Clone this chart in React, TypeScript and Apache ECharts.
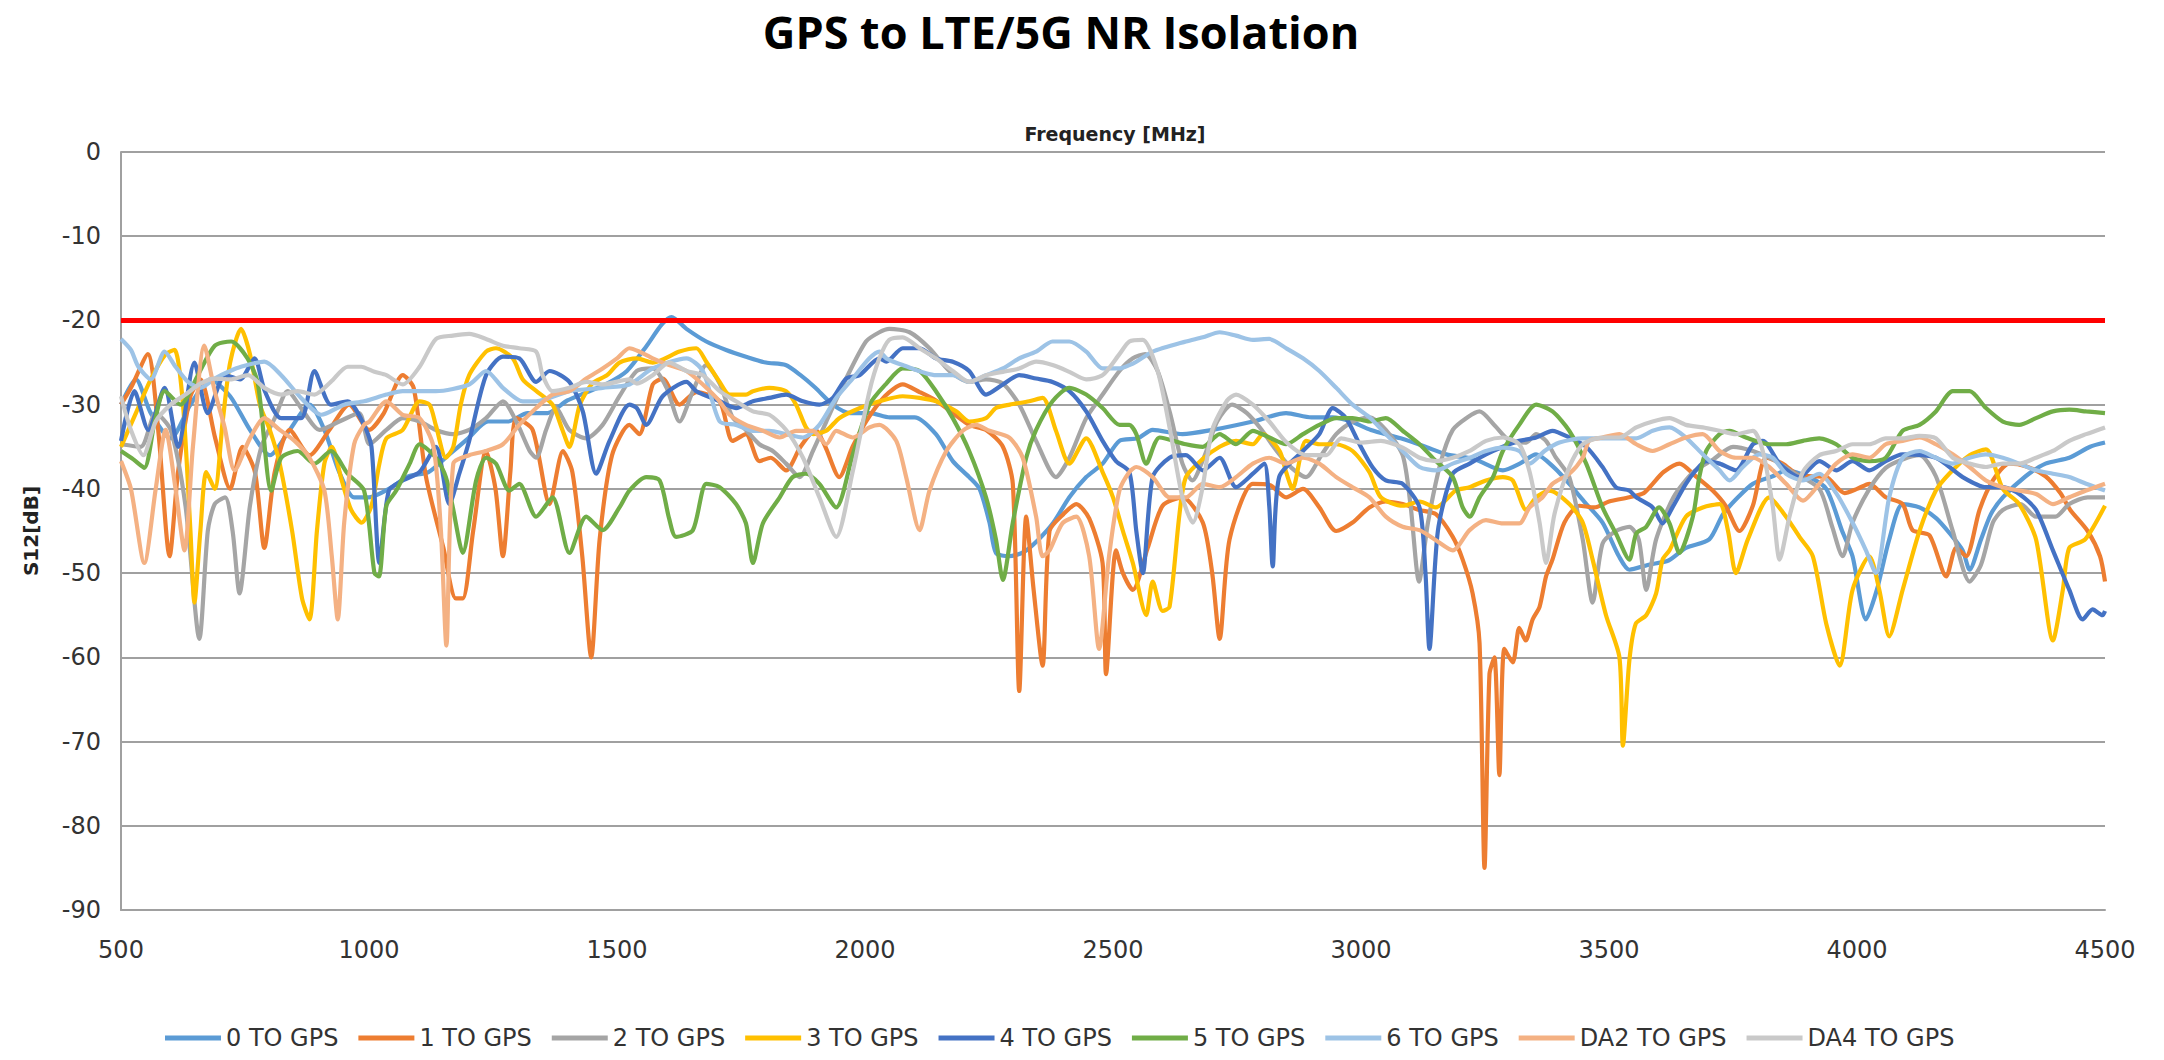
import React, { useEffect, useRef } from "react";
import * as echarts from "echarts";

const seriesNames = ["0 TO GPS", "1 TO GPS", "2 TO GPS", "3 TO GPS", "4 TO GPS", "5 TO GPS", "6 TO GPS", "DA2 TO GPS", "DA4 TO GPS"];
const seriesColors = ["#5B9BD5", "#ED7D31", "#A5A5A5", "#FFC000", "#4472C4", "#70AD47", "#9DC3E6", "#F4B183", "#C9C9C9"];
const yTicks = { min: -90, max: 0, step: 10 };
const xTicks = { min: 500, max: 4500, step: 500 };
const limitValue = -20;

const s0: number[][] = [[500,-30],[530,-27],[560,-31],[600,-34],[640,-30],[680,-27],[720,-29],[760,-33],[800,-36],[840,-33],[880,-30],[910,-33],[940,-38],[970,-41],[1000,-41],[1040,-40],[1080,-38.5],[1120,-38],[1160,-36],[1200,-34],[1240,-32],[1280,-32],[1320,-31],[1360,-31],[1400,-29.5],[1440,-28.5],[1480,-27.5],[1520,-26],[1560,-23],[1590,-20.5],[1610,-19.6],[1640,-21],[1680,-22.5],[1720,-23.5],[1760,-24.3],[1800,-25],[1840,-25.3],[1870,-26.5],[1900,-28],[1935,-30],[1970,-31],[2010,-31],[2050,-31.5],[2100,-31.5],[2143,-33.5],[2177,-36.7],[2210,-38.6],[2231,-40],[2251,-44],[2264,-47.6],[2290,-48],[2320,-47.5],[2350,-46],[2380,-44],[2412,-41],[2446,-38.6],[2479,-37],[2513,-34.3],[2550,-34],[2580,-33],[2640,-33.5],[2700,-33],[2782,-32],[2849,-31],[2900,-31.5],[2943,-31.5],[2980,-32],[3020,-33],[3080,-34],[3130,-35],[3172,-35.9],[3230,-36.5],[3286,-37.8],[3320,-37],[3353,-35.9],[3390,-37.5],[3420,-39.4],[3450,-41.5],[3487,-44],[3520,-48],[3541,-49.6],[3580,-49],[3620,-48.5],[3655,-47],[3702,-46],[3730,-43],[3760,-41],[3790,-39.4],[3830,-38.5],[3857,-37.8],[3900,-38.5],[3938,-40],[3970,-45],[3991,-48],[4018,-55.5],[4040,-52],[4065,-46],[4092,-41.8],[4126,-42.2],[4160,-43.5],[4190,-45.5],[4213,-47.3],[4227,-49.6],[4250,-46],[4270,-43],[4294,-41],[4340,-38.5],[4380,-37],[4428,-36.3],[4470,-35],[4500,-34.5]];

const s1: number[][] = [[500,-30],[520,-28],[554,-24],[575,-33],[598,-48],[615,-38],[640,-29],[660,-27],[690,-34],[720,-40],[745,-35],[770,-38],[789,-47],[810,-38],[840,-33],[880,-36],[920,-33],[960,-30],[1000,-33],[1030,-31],[1068,-26.5],[1090,-28],[1115,-38.6],[1150,-47],[1175,-53],[1189,-53],[1210,-45],[1236,-35.5],[1255,-40],[1270,-48],[1285,-38],[1297,-31.6],[1330,-33],[1364,-41.8],[1391,-35.5],[1410,-38],[1430,-48],[1448,-60],[1465,-46],[1490,-36],[1525,-32.4],[1545,-33.5],[1572,-27.6],[1592,-26.9],[1626,-30],[1660,-28.5],[1707,-29.6],[1733,-34.3],[1760,-33.5],[1787,-36.7],[1810,-36.3],[1841,-37.8],[1870,-35],[1900,-33],[1920,-35],[1948,-38.6],[1975,-35],[2002,-32],[2040,-29],[2076,-27.6],[2110,-28.5],[2143,-29.5],[2177,-31],[2210,-32.4],[2244,-33],[2278,-35],[2298,-39.4],[2311,-64],[2325,-43.3],[2340,-52],[2358,-61],[2372,-45],[2400,-43],[2426,-41.8],[2452,-43.5],[2479,-48.8],[2486,-62],[2506,-47.3],[2520,-50],[2540,-52],[2570,-47],[2600,-42],[2640,-41],[2681,-44],[2700,-50],[2715,-57.8],[2735,-46],[2782,-39.4],[2815,-39.5],[2849,-41],[2883,-40],[2916,-42.2],[2950,-45],[2983,-44],[3017,-42.2],[3050,-41.5],[3084,-41.8],[3118,-42.5],[3151,-43],[3185,-45.7],[3205,-48.4],[3225,-52.4],[3239,-58.3],[3249,-85],[3259,-62],[3269,-60],[3279,-74],[3289,-59],[3306,-60.6],[3319,-56.5],[3332,-58],[3346,-55.5],[3360,-54],[3373,-50.4],[3386,-48.4],[3410,-44],[3440,-42],[3470,-42.2],[3500,-41.5],[3541,-41],[3570,-40.5],[3588,-39.4],[3610,-38],[3642,-37],[3675,-38.5],[3709,-40.2],[3735,-42],[3763,-45],[3790,-42],[3817,-36.3],[3850,-37],[3880,-38.3],[3910,-38.5],[3938,-38.6],[3975,-40.5],[4000,-40],[4025,-39.4],[4058,-41],[4092,-41.8],[4112,-44.9],[4146,-45.5],[4180,-50.4],[4200,-47],[4220,-48],[4247,-42.5],[4274,-39],[4307,-37],[4340,-37.3],[4380,-38.5],[4410,-40.5],[4430,-42.5],[4465,-45],[4490,-48],[4500,-51]];

const s2: number[][] = [[500,-34.7],[540,-35],[570,-31],[600,-33],[630,-42],[658,-57.8],[675,-45],[689,-41.8],[710,-41],[725,-45],[739,-52.4],[760,-42],[783,-35],[810,-31.6],[836,-28.4],[870,-31],[900,-33],[940,-32],[980,-31],[1001,-34.7],[1035,-33],[1068,-31.6],[1102,-32],[1135,-33],[1169,-33.5],[1202,-33],[1236,-31.6],[1270,-29.6],[1297,-32],[1324,-35.5],[1337,-36.3],[1357,-33],[1377,-30.4],[1404,-33],[1438,-34],[1471,-32.4],[1505,-29],[1540,-26],[1572,-25.7],[1600,-28],[1626,-32],[1653,-28.4],[1680,-25.3],[1707,-27.5],[1733,-31.5],[1760,-33],[1787,-34.7],[1814,-35.5],[1841,-37],[1868,-38.6],[1895,-35.5],[1922,-32],[1962,-26.9],[2002,-22.5],[2029,-21.4],[2049,-21],[2090,-21.4],[2130,-23.3],[2170,-26],[2210,-27.3],[2244,-27],[2278,-27.5],[2311,-30],[2345,-34.3],[2385,-38.6],[2412,-36.3],[2446,-31.6],[2479,-28.8],[2513,-26],[2540,-24.5],[2565,-24],[2590,-26],[2615,-31],[2640,-37],[2660,-39],[2685,-36],[2710,-32],[2740,-30],[2770,-31],[2800,-33],[2830,-35.5],[2860,-37.5],[2889,-38.6],[2920,-36],[2950,-33.5],[2983,-32],[3017,-31.5],[3050,-33],[3084,-36],[3100,-42],[3117,-51],[3135,-44],[3160,-37],[3185,-33],[3215,-31.5],[3239,-30.8],[3270,-32.5],[3300,-34.3],[3333,-34.5],[3353,-33.5],[3373,-34.3],[3393,-36.3],[3420,-38.6],[3447,-46],[3467,-53.5],[3487,-46.5],[3514,-45],[3541,-44.5],[3560,-46],[3575,-52],[3595,-46],[3630,-41],[3670,-38],[3710,-36.5],[3750,-35],[3790,-35.5],[3830,-36.5],[3870,-38],[3924,-40],[3950,-44.5],[3971,-48],[3991,-44],[4025,-40],[4058,-37.5],[4092,-36.5],[4126,-36],[4159,-38.5],[4193,-45],[4227,-51],[4250,-49],[4274,-44],[4294,-42.5],[4330,-41.8],[4361,-43.3],[4400,-43.3],[4428,-41.8],[4465,-41],[4500,-41]];

const s3: number[][] = [[500,-35],[530,-31],[560,-27],[590,-24],[608,-23.5],[625,-30],[640,-45],[648,-53.5],[660,-45],[672,-38],[689,-40],[705,-32],[720,-25],[742,-21],[760,-24],[780,-30],[800,-33],[820,-37],[845,-45],[865,-53],[880,-55.5],[895,-45],[910,-37],[925,-35],[945,-39],[964,-42.5],[985,-44],[1005,-42],[1021,-37],[1035,-34],[1068,-33],[1102,-29.6],[1122,-30],[1135,-32.5],[1155,-36.3],[1170,-35],[1185,-30],[1202,-26.5],[1236,-23.7],[1256,-23.3],[1290,-24.5],[1310,-27],[1340,-28.5],[1370,-30],[1390,-33],[1404,-35],[1425,-30],[1450,-27.5],[1480,-26.5],[1505,-25],[1540,-24.5],[1572,-25],[1626,-23.7],[1660,-23.3],[1680,-24.9],[1707,-27.3],[1727,-28.8],[1760,-28.8],[1774,-28.4],[1807,-28],[1841,-28.4],[1861,-30],[1881,-32.7],[1895,-33.5],[1922,-33.1],[1948,-31.6],[1990,-30.4],[2029,-29.6],[2076,-29],[2110,-29.2],[2143,-29.6],[2184,-30.8],[2210,-32],[2244,-31.6],[2264,-30.4],[2292,-30],[2331,-29.6],[2358,-29.2],[2385,-33.1],[2412,-37],[2446,-34],[2479,-38],[2500,-41],[2520,-45],[2540,-48.8],[2567,-55],[2580,-51],[2600,-54.5],[2614,-54],[2634,-43],[2647,-38.6],[2680,-36.5],[2715,-35],[2748,-34.3],[2782,-34.7],[2802,-33.5],[2836,-35.5],[2849,-38],[2862,-40],[2889,-34.3],[2916,-34.7],[2950,-34.7],[2983,-35.5],[3017,-38],[3040,-41],[3084,-42],[3118,-41.5],[3151,-42.2],[3191,-40.2],[3219,-39.8],[3252,-39],[3286,-38.6],[3306,-39],[3333,-42.5],[3353,-41],[3380,-40.2],[3420,-41.8],[3447,-44],[3467,-48.4],[3494,-55],[3521,-60],[3528,-70.5],[3541,-60.4],[3554,-56],[3575,-55],[3595,-52.4],[3608,-48.4],[3622,-47.3],[3655,-43.3],[3689,-42.2],[3723,-41.8],[3740,-45],[3756,-50],[3780,-46],[3823,-41],[3857,-43.3],[3884,-45.7],[3911,-48],[3938,-56],[3965,-61],[3991,-52],[4025,-48],[4045,-52],[4065,-57.5],[4092,-52],[4126,-45],[4159,-40.2],[4186,-38.2],[4227,-36],[4260,-35.3],[4294,-40],[4327,-41.8],[4361,-46],[4395,-58],[4415,-52],[4428,-47],[4460,-46],[4500,-42]];

const s4: number[][] = [[500,-34.3],[527,-28.4],[555,-33],[588,-28],[615,-35],[648,-25],[675,-31],[710,-26.5],[740,-27],[769,-24.5],[790,-28.4],[823,-31.6],[863,-31.6],[890,-26],[923,-30],[957,-29.6],[990,-32.4],[1005,-35],[1021,-48.8],[1040,-40.2],[1068,-39],[1102,-38],[1135,-35],[1162,-41.8],[1182,-38.2],[1202,-34.3],[1236,-26.5],[1270,-24.3],[1303,-24.5],[1337,-27.3],[1364,-26],[1404,-27.3],[1431,-30.8],[1458,-38.2],[1485,-34.3],[1525,-30],[1540,-30.4],[1559,-32.4],[1592,-29],[1640,-27.3],[1660,-28.4],[1707,-29.6],[1740,-30.4],[1774,-29.6],[1807,-29.2],[1841,-28.8],[1875,-29.6],[1908,-30],[1935,-29.2],[1962,-26.9],[1989,-26.5],[2029,-24.5],[2043,-24.9],[2076,-23.3],[2110,-23.3],[2143,-24.5],[2177,-24.9],[2210,-26],[2244,-28.8],[2278,-27.6],[2311,-26.5],[2345,-26.9],[2378,-27.3],[2412,-28.4],[2446,-30.8],[2479,-34.3],[2506,-36.7],[2533,-38],[2547,-45],[2560,-50],[2580,-38.6],[2614,-36.3],[2647,-36],[2681,-37.8],[2715,-36.3],[2748,-39.8],[2782,-38.2],[2805,-37],[2815,-42],[2822,-49.2],[2835,-38.6],[2883,-35.5],[2916,-33.5],[2943,-30.4],[2970,-31.6],[2997,-34.7],[3024,-37.5],[3050,-39],[3084,-39.4],[3118,-42.2],[3130,-50],[3138,-59],[3155,-45],[3185,-38.2],[3219,-37],[3252,-35.9],[3286,-35],[3319,-34.3],[3353,-33.9],[3386,-33.1],[3420,-33.9],[3454,-35],[3487,-37.4],[3514,-39.8],[3541,-40.2],[3555,-41],[3588,-42.2],[3608,-44.1],[3628,-42.2],[3655,-39.4],[3675,-37.8],[3696,-36.7],[3723,-37],[3756,-37.8],[3790,-34.7],[3810,-34.3],[3844,-37],[3884,-38.6],[3924,-36.7],[3958,-37.8],[3991,-36.7],[4025,-37.8],[4058,-36.7],[4092,-35.9],[4159,-36.3],[4213,-38.6],[4260,-39.8],[4294,-39.8],[4327,-40.6],[4361,-42.5],[4395,-47.3],[4428,-52],[4455,-55.5],[4475,-54.3],[4495,-55],[4500,-54.5]];

const s5: number[][] = [[500,-35.5],[525,-36.5],[547,-37.5],[568,-32],[588,-28.4],[620,-30],[655,-26.5],[689,-23],[722,-22.5],[755,-24.5],[776,-27.5],[803,-40.2],[823,-36.3],[856,-35.5],[890,-37],[923,-35.5],[957,-38.2],[990,-40.2],[1011,-50],[1020,-50.4],[1035,-42],[1055,-40.2],[1082,-37],[1102,-34.7],[1135,-36.3],[1155,-38.6],[1169,-42.2],[1189,-47.6],[1216,-39],[1236,-36.3],[1256,-37],[1283,-40.2],[1303,-39.4],[1337,-43.3],[1370,-41],[1404,-47.6],[1438,-43.3],[1471,-44.9],[1505,-42.2],[1525,-40.2],[1559,-38.6],[1586,-39],[1605,-43.5],[1619,-45.7],[1653,-44.9],[1680,-39.4],[1707,-39.8],[1740,-41.8],[1760,-44.1],[1774,-48.8],[1794,-44.1],[1828,-41],[1854,-38.6],[1881,-38.2],[1908,-39.4],[1942,-42.2],[1975,-36],[2009,-30],[2043,-27.5],[2076,-25.7],[2110,-26],[2143,-28.4],[2177,-31.6],[2210,-35.5],[2244,-41],[2264,-46],[2278,-50.8],[2298,-44],[2325,-36.3],[2345,-33],[2378,-29.6],[2412,-28],[2446,-28.8],[2479,-30.4],[2513,-32.4],[2533,-32.4],[2547,-33.5],[2567,-37],[2594,-33.9],[2647,-34.7],[2681,-35],[2715,-33.5],[2748,-34.7],[2782,-33.1],[2815,-33.9],[2849,-34.7],[2883,-33.5],[2916,-32.4],[2950,-31.6],[2983,-31.6],[3017,-32],[3050,-31.6],[3084,-33.1],[3118,-34.7],[3151,-36.7],[3185,-38.6],[3205,-42.2],[3219,-43.3],[3239,-41],[3266,-38.6],[3286,-35.5],[3319,-32.4],[3353,-30],[3386,-30.8],[3420,-33.1],[3454,-37],[3487,-42.2],[3514,-45.3],[3541,-48.4],[3555,-45.3],[3575,-44.5],[3601,-42.2],[3622,-44.1],[3642,-47.6],[3669,-43.3],[3682,-38.6],[3696,-35.5],[3723,-33.5],[3743,-33.1],[3776,-33.9],[3823,-34.7],[3857,-34.7],[3891,-34.3],[3924,-34],[3958,-34.7],[3991,-36.3],[4025,-36.7],[4058,-36.3],[4092,-33.1],[4126,-32.4],[4159,-30.8],[4193,-28.4],[4227,-28.4],[4260,-30.4],[4294,-32],[4327,-32.4],[4361,-31.6],[4395,-30.8],[4428,-30.6],[4462,-30.8],[4500,-31]];

const s6: number[][] = [[500,-22.2],[520,-23.5],[535,-25.5],[560,-27],[588,-23.7],[610,-25.5],[635,-27.3],[660,-28],[689,-26.9],[720,-26],[742,-25.5],[789,-24.9],[823,-26.5],[863,-29.2],[904,-31.2],[950,-30],[990,-29.6],[1035,-28.8],[1068,-28.4],[1135,-28.4],[1202,-27.6],[1236,-26],[1270,-28],[1310,-29.6],[1337,-29.6],[1404,-28.4],[1471,-28],[1525,-27.6],[1572,-25.7],[1640,-24.5],[1673,-26],[1707,-32],[1740,-32.4],[1774,-33.1],[1807,-33.1],[1841,-33.5],[1875,-33.9],[1908,-32.4],[1942,-29.2],[1975,-26.9],[2009,-24.5],[2029,-23.7],[2043,-24.5],[2076,-25.3],[2143,-26.5],[2177,-26.5],[2210,-27.3],[2244,-26.5],[2278,-25.7],[2311,-24.5],[2345,-23.7],[2378,-22.5],[2412,-22.5],[2446,-23.7],[2479,-25.7],[2513,-25.7],[2533,-25.3],[2547,-24.9],[2580,-23.7],[2647,-22.5],[2681,-22],[2715,-21.4],[2748,-21.8],[2782,-22.3],[2815,-22.2],[2849,-23.3],[2883,-24.5],[2916,-26],[2950,-28],[2983,-30],[3017,-31.5],[3050,-33.5],[3084,-35.5],[3118,-37.4],[3151,-37.8],[3185,-37],[3219,-36.3],[3252,-35.5],[3286,-35.1],[3319,-35.5],[3340,-37],[3370,-35.5],[3400,-34.5],[3447,-34],[3487,-34],[3521,-34],[3555,-34],[3588,-33.1],[3622,-32.7],[3655,-33.9],[3689,-35.9],[3723,-37.8],[3743,-39],[3770,-37.4],[3803,-35.9],[3830,-36.3],[3857,-38.2],[3891,-39],[3924,-38.2],[3958,-40.5],[3991,-44],[4018,-47.3],[4038,-50],[4065,-41],[4092,-36.3],[4126,-35.5],[4159,-36.3],[4193,-37],[4227,-36.3],[4260,-35.9],[4294,-36.3],[4327,-37],[4361,-37.8],[4395,-38.2],[4428,-38.6],[4462,-39.4],[4500,-40.2]];

const sDA2: number[][] = [[500,-36.7],[520,-40],[547,-48.8],[570,-40],[590,-33],[610,-40],[628,-47.3],[645,-35],[668,-23],[689,-28.4],[709,-32.7],[729,-37.8],[760,-34],[789,-31.6],[820,-33],[850,-34.3],[880,-36.3],[910,-40.2],[925,-48],[937,-55.5],[950,-44],[970,-34.7],[990,-32.4],[1001,-32],[1035,-29.6],[1068,-31.2],[1102,-31.6],[1130,-35],[1145,-45],[1156,-58.6],[1170,-37],[1202,-36],[1236,-35.5],[1270,-34.7],[1303,-32.4],[1337,-30.4],[1370,-28.8],[1404,-28.4],[1438,-26.9],[1471,-25.7],[1500,-24.5],[1525,-23.3],[1545,-23.7],[1572,-24.5],[1605,-25.3],[1640,-26],[1673,-27.6],[1707,-29.6],[1727,-31.2],[1760,-32.4],[1794,-33.1],[1828,-33.9],[1861,-33.1],[1895,-33.1],[1922,-34.7],[1942,-33.1],[1975,-33.9],[2009,-32.7],[2029,-32.4],[2063,-34.3],[2083,-38.6],[2110,-44.9],[2130,-40.2],[2164,-35.5],[2197,-33.1],[2224,-32.4],[2251,-33.1],[2291,-33.9],[2318,-36.3],[2345,-43.3],[2358,-48],[2372,-47.3],[2398,-44.1],[2426,-43.3],[2452,-48],[2472,-59],[2492,-48],[2513,-40.2],[2533,-38],[2547,-37.4],[2580,-38.6],[2614,-41],[2647,-41],[2681,-39.4],[2715,-39.8],[2748,-38.6],[2782,-37],[2815,-36.3],[2849,-37],[2883,-36.3],[2916,-37],[2950,-38.6],[2983,-39.8],[3017,-41],[3050,-43.3],[3084,-44.5],[3118,-44.9],[3151,-46.1],[3185,-47.3],[3219,-44.9],[3252,-43.7],[3286,-44.1],[3319,-44.1],[3340,-42.2],[3366,-41],[3386,-39.4],[3420,-38.2],[3447,-36.3],[3460,-34.3],[3487,-33.9],[3521,-33.5],[3555,-34.7],[3588,-35.5],[3622,-34.7],[3655,-33.9],[3689,-33.5],[3723,-35.5],[3756,-36.3],[3790,-36.3],[3823,-37.4],[3857,-39.4],[3891,-41.4],[3924,-39.4],[3958,-37],[3991,-35.9],[4025,-36.3],[4058,-34.7],[4092,-34.3],[4126,-33.9],[4159,-34.7],[4193,-35.9],[4227,-37.4],[4260,-39],[4294,-39.8],[4327,-40.2],[4361,-40.6],[4395,-41.8],[4428,-41],[4462,-40.2],[4500,-39.4]];

const sDA4: number[][] = [[500,-29],[520,-33],[545,-36],[570,-32],[600,-30],[630,-28.8],[660,-27.5],[689,-26.9],[720,-27],[756,-26.5],[789,-28],[823,-28.8],[856,-28.4],[890,-28.8],[923,-27.3],[957,-25.5],[984,-25.5],[1011,-26.1],[1035,-26.5],[1068,-27.6],[1102,-25.5],[1135,-22.2],[1169,-21.8],[1202,-21.6],[1236,-22.2],[1270,-23],[1303,-23.3],[1337,-23.7],[1350,-26.5],[1370,-28.4],[1404,-28],[1438,-27.3],[1471,-27.6],[1525,-27],[1540,-27.5],[1572,-26.5],[1605,-25],[1640,-26],[1673,-26.5],[1707,-28.4],[1740,-29.6],[1774,-30.8],[1807,-31.2],[1841,-33],[1875,-36.3],[1908,-41],[1942,-45.7],[1975,-38],[2009,-28.4],[2029,-24.5],[2049,-22.3],[2076,-22],[2110,-23.3],[2143,-24.5],[2177,-26],[2210,-27.3],[2244,-26.5],[2278,-26.1],[2311,-25.7],[2345,-24.9],[2378,-25.3],[2412,-26.1],[2446,-27],[2479,-26.5],[2513,-24],[2533,-22.5],[2560,-22.3],[2590,-26],[2615,-33],[2640,-41],[2661,-44],[2680,-40],[2700,-33],[2730,-29.5],[2748,-28.8],[2782,-30],[2815,-32],[2850,-34.5],[2890,-36],[2930,-36],[2960,-34],[3000,-34.5],[3040,-34.3],[3084,-35.1],[3118,-36.3],[3151,-36.7],[3185,-36.3],[3219,-35.5],[3252,-34.3],[3286,-33.9],[3319,-34.7],[3340,-38],[3360,-44],[3373,-48.8],[3390,-43],[3420,-37.4],[3447,-34.7],[3487,-33.9],[3521,-33.9],[3555,-32.7],[3588,-32],[3622,-31.6],[3655,-32.4],[3689,-32.7],[3723,-33.1],[3756,-33.5],[3790,-33.1],[3810,-35.5],[3830,-42],[3844,-48.4],[3865,-43],[3891,-38],[3924,-36],[3958,-35.5],[3991,-34.7],[4025,-34.7],[4058,-34],[4092,-34],[4126,-33.7],[4159,-34],[4193,-36.3],[4227,-37],[4260,-37.4],[4294,-37],[4327,-37],[4361,-36.3],[4395,-35.5],[4428,-34.3],[4462,-33.5],[4500,-32.7]];

const seriesData = [s0, s1, s2, s3, s4, s5, s6, sDA2, sDA4];
const limitData: number[][] = [[xTicks.min, limitValue], [xTicks.max, limitValue]];

export default function App() {
  const ref = useRef<HTMLDivElement>(null);
  useEffect(() => {
    if (!ref.current) return;
    const chart = echarts.init(ref.current, null, { renderer: "svg" });
    const lines = seriesNames.map((name, i) => ({
      name,
      type: "line",
      data: seriesData[i],
      symbol: "none",
      smooth: 0.25,
      color: seriesColors[i],
      lineStyle: { width: 4.2, color: seriesColors[i] },
    }));
    chart.setOption({
      animation: false,
      backgroundColor: "#ffffff",
      graphic: [
        {
          type: "text",
          x: 1061,
          y: 31,
          style: {
            text: "GPS to LTE/5G NR Isolation",
            font: "bold 45px 'Open Sans'",
            fill: "#000",
            textAlign: "center",
            textVerticalAlign: "middle",
          },
        },
        {
          type: "text",
          x: 1115,
          y: 134,
          style: {
            text: "Frequency [MHz]",
            font: "bold 19px 'DejaVu Sans'",
            fill: "#222",
            textAlign: "center",
            textVerticalAlign: "middle",
          },
        },
      ],
      grid: { left: 121, right: 59, top: 152, bottom: 150, containLabel: false },
      legend: {
        data: seriesNames,
        left: 160,
        top: 1021,
        icon: "rect",
        itemWidth: 56,
        itemHeight: 5,
        itemGap: 20,
        textStyle: { fontFamily: "DejaVu Sans", fontSize: 24, color: "#333" },
      },
      xAxis: {
        type: "value",
        min: xTicks.min,
        max: xTicks.max,
        interval: xTicks.step,
        axisLine: { show: true, onZero: false, lineStyle: { color: "#a0a0a0", width: 2 } },
        axisTick: { show: false },
        splitLine: { show: false },
        axisLabel: {
          fontFamily: "DejaVu Sans",
          fontSize: 24,
          color: "#333",
          margin: 28,
          formatter: (v: number) => String(v),
        },
      },
      yAxis: {
        type: "value",
        min: yTicks.min,
        max: yTicks.max,
        interval: yTicks.step,
        name: "S12[dB]",
        nameLocation: "middle",
        nameRotate: 90,
        nameGap: 80,
        nameTextStyle: { fontFamily: "DejaVu Sans", fontWeight: "bold", fontSize: 20, color: "#222" },
        axisLine: { show: true, lineStyle: { color: "#a0a0a0", width: 2 } },
        axisTick: { show: false },
        splitLine: { show: true, lineStyle: { color: "#a0a0a0", width: 2 } },
        axisLabel: { fontFamily: "DejaVu Sans", fontSize: 24, color: "#333", margin: 20 },
      },
      series: [
        ...lines,
        {
          name: "limit",
          type: "line",
          data: limitData,
          symbol: "none",
          silent: true,
          z: 5,
          lineStyle: { width: 5, color: "#FF0000" },
          color: "#FF0000",
        },
      ],
    });
    return () => chart.dispose();
  }, []);
  return (
    <div
      ref={ref}
      style={{ position: "absolute", left: 0, top: 0, width: 2164, height: 1060, background: "#fff" }}
    />
  );
}
